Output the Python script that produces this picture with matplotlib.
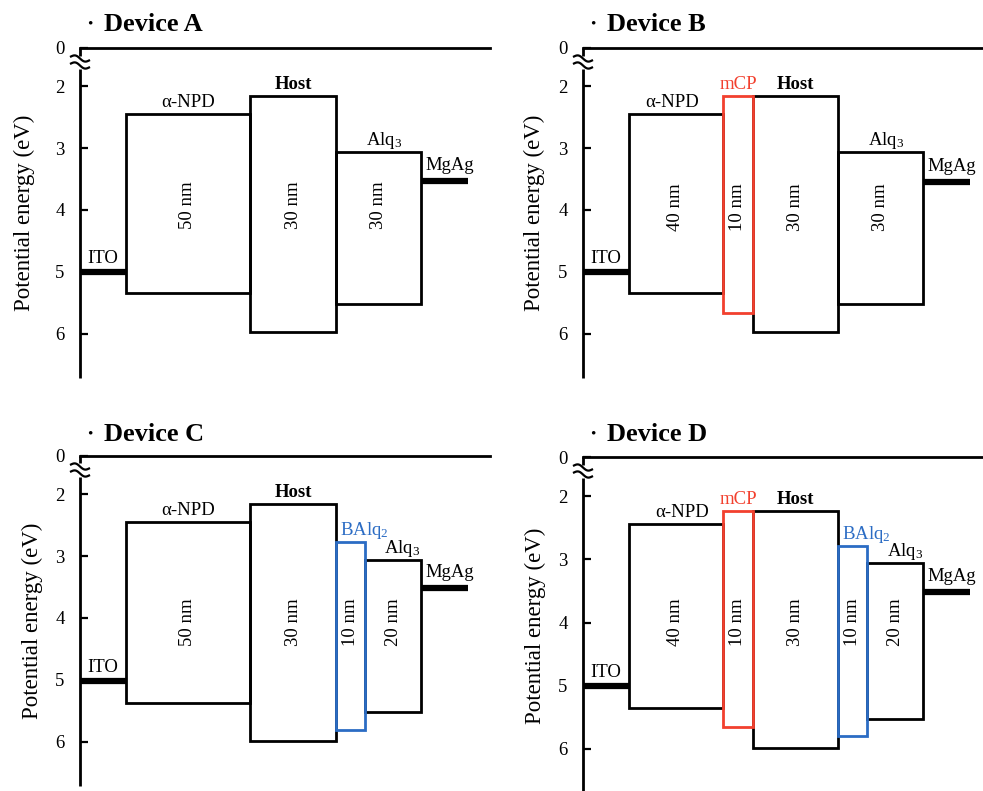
import matplotlib
matplotlib.use("Agg")
import matplotlib.pyplot as plt
from matplotlib.patches import Rectangle
import numpy as np

plt.rcParams['font.family'] = ['Liberation Serif', 'DejaVu Serif']
plt.rcParams['mathtext.fontset'] = 'custom'
plt.rcParams['mathtext.rm'] = 'Liberation Serif'
plt.rcParams['mathtext.it'] = 'Liberation Serif:italic'
plt.rcParams['mathtext.bf'] = 'Liberation Serif:bold'

# ------------------------------- data -------------------------------------- #

titles = ["Device A", "Device B", "Device C", "Device D"]

a_names = ["α-NPD", "Host", "Alq$_3$"]
a_lumo = [2.45, 2.15, 3.06]
a_homo = [5.35, 5.98, 5.52]
a_thick = ["50 nm", "30 nm", "30 nm"]

b_names = ["α-NPD", "mCP", "Host", "Alq$_3$"]
b_lumo = [2.45, 2.15, 2.15, 3.06]
b_homo = [5.35, 5.67, 5.98, 5.52]
b_thick = ["40 nm", "10 nm", "30 nm", "30 nm"]

c_names = ["α-NPD", "Host", "BAlq$_2$", "Alq$_3$"]
c_lumo = [2.45, 2.15, 2.77, 3.07]
c_homo = [5.37, 5.99, 5.82, 5.53]
c_thick = ["50 nm", "30 nm", "10 nm", "20 nm"]

d_names = ["α-NPD", "mCP", "Host", "BAlq$_2$", "Alq$_3$"]
d_lumo = [2.44, 2.24, 2.24, 2.79, 3.05]
d_homo = [5.35, 5.66, 5.99, 5.80, 5.52]
d_thick = ["40 nm", "10 nm", "30 nm", "10 nm", "20 nm"]

ito_level = [5.0, 5.0, 5.02, 5.0]
mgag_level = [3.53, 3.55, 3.52, 3.52]

tick_vals = [2, 3, 4, 5, 6]

# ------------------------------ layout ------------------------------------- #

W, H = 983, 791
Y_TOP, Y_BOT = 1.38, 6.72

# left, top, width (px), px per eV
axes_px = [(80, 48, 410, 61.8), (583, 48, 400, 61.8),
           (80, 456, 410, 61.8), (583, 457, 400, 63.2)]
widths = [[124, 86, 85], [94, 30, 85, 85],
          [124, 86, 29, 56], [94, 30, 85, 29, 56]]
label_dx = [[0, 0, 6], [-4, 0, 0, 6], [0, 0, 14, 9], [6, 0, 0, 14, 10]]
inner_y = [3.92, 3.95, 4.07, 3.99]
ylabel_x = [24, 534, 32, 535]
title_base = [31, 31, 441, 441]
ELEC_W = 46

colors = {"mCP": "#f2402e", "BAlq$_2$": "#2b6cc4"}

layers = [(a_names, a_lumo, a_homo, a_thick),
          (b_names, b_lumo, b_homo, b_thick),
          (c_names, c_lumo, c_homo, c_thick),
          (d_names, d_lumo, d_homo, d_thick)]

# ------------------------------ figure ------------------------------------- #

fig = plt.figure(figsize=(W / 100, H / 100), dpi=100)

for k in range(4):
    left, top, wid, scale = axes_px[k]
    hgt = (Y_BOT - Y_TOP) * scale
    ax = fig.add_axes([left / W, 1 - (top + hgt) / H, wid / W, hgt / H])
    ax.set_xlim(0, wid)
    ax.set_ylim(Y_BOT, Y_TOP)
    ax.patch.set_visible(False)

    for s in ["left", "right", "bottom"]:
        ax.spines[s].set_visible(False)
    ax.spines["top"].set_linewidth(2)

    # y axis drawn by hand, with a break between 0 and 2
    b1 = Y_TOP + 7.5 / scale
    b2 = Y_TOP + 21 / scale
    ax.plot([0, 0], [Y_TOP, b1], color="black", lw=2, clip_on=False,
            solid_capstyle="butt")
    ax.plot([0, 0], [b2, Y_BOT], color="black", lw=2, clip_on=False,
            solid_capstyle="butt")
    t = np.linspace(-1, 1, 40)
    for c in [10.5, 17.5]:
        ax.plot(9 * t, Y_TOP + (c + 2 * t + 2 * np.sin(np.pi * t)) / scale,
                color="black", lw=1.6, clip_on=False)

    ax.set_xticks([])
    ax.set_yticks([Y_TOP] + tick_vals)
    ax.set_yticklabels(["0"] + [str(v) for v in tick_vals])
    ax.tick_params(axis="y", direction="in", length=6, width=1.6, pad=11,
                   labelsize=13.5)

    names, lumo, homo, thick = layers[k]
    x = ELEC_W

    # ITO
    ax.plot([0, ELEC_W], [ito_level[k]] * 2, color="black", lw=4.5,
            solid_capstyle="butt", zorder=3)
    ax.annotate("ITO", xy=(ELEC_W / 2, ito_level[k]), xytext=(0, 6.5),
                textcoords="offset points", ha="center", va="baseline",
                fontsize=13.5)

    for i, name in enumerate(names):
        w = widths[k][i]
        col = colors.get(name, "black")
        ax.add_patch(Rectangle((x, lumo[i]), w, homo[i] - lumo[i],
                               fill=False, edgecolor=col, lw=2,
                               joinstyle="miter",
                               zorder=4 if col != "black" else 2))
        ax.annotate(name, xy=(x + w / 2, lumo[i]),
                    xytext=(label_dx[k][i] * 0.72, 5),
                    textcoords="offset points", ha="center", va="baseline",
                    fontsize=13.5, color=col,
                    fontweight="bold" if name == "Host" else "normal")
        ax.text(x + w / 2, inner_y[k], thick[i], rotation=90, ha="center",
                va="center", fontsize=13.5)
        x += w

    # MgAg
    ax.plot([x, x + ELEC_W + 1], [mgag_level[k]] * 2, color="black", lw=4.5,
            solid_capstyle="butt", zorder=3)
    ax.annotate("MgAg", xy=(x + ELEC_W / 2, mgag_level[k]),
                xytext=(4.5, 8), textcoords="offset points", ha="center",
                va="baseline", fontsize=13.5)

    # y label and title
    fig.text(ylabel_x[k] / W, 1 - (top + hgt / 2) / H, "Potential energy (eV)",
             rotation=90, ha="center", va="center", fontsize=16.5)
    fig.text((left + 10) / W, 1 - (title_base[k] - 7) / H, "•", ha="center",
             va="center", fontsize=11)
    fig.text((left + 24) / W, 1 - title_base[k] / H, titles[k], ha="left",
             va="baseline", fontsize=19, fontweight="bold")

fig.savefig("out.png", dpi=100)
